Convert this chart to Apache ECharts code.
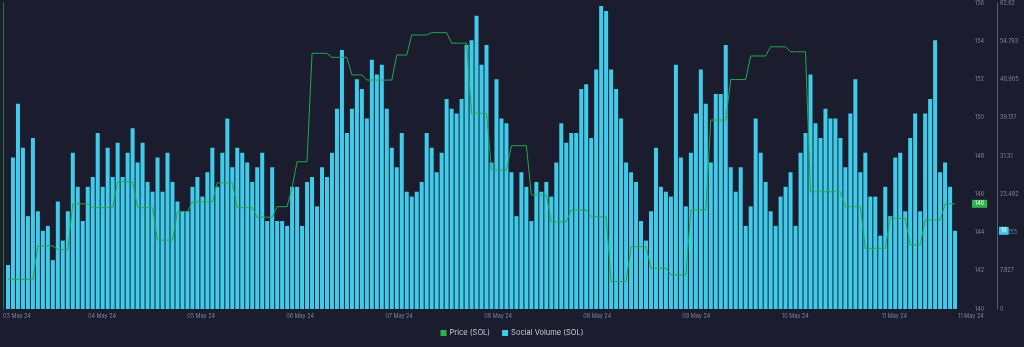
<!DOCTYPE html>
<html>
<head>
<meta charset="utf-8">
<script src="https://cdn.jsdelivr.net/npm/echarts@6/dist/echarts.min.js"></script>
<style>
html,body{margin:0;padding:0;background:#1b1d2e;}
#chart{width:1024px;height:347px;}
</style>
</head>
<body>
<div id="chart"></div>
<script>
// x-axis tick labels (first = axis start, last = axis end)
const xTickLabels = ['03 May 24','04 May 24','05 May 24','06 May 24','07 May 24','08 May 24','08 May 24','09 May 24','10 May 24','11 May 24','11 May 24'];
// right axis tick labels for social volume
const volumeTickLabels = ['0','7.827','15.655','23.482','31.31','39.137','46.965','54.793','62.62'];

// hourly social volume (SOL)
const socialVolume = [
  9,31,42,33,19,35,20,16,17,10,22,14,20,32,25,18,25,27,36,25,
  33,27,34,27,32,37,30,34,26,24,31,24,32,26,22,20,20,25,27,23,
  28,33,25,32,39,29,33,32,30,26,29,32,
  18,29,18,18,17,25,25,17,26,27,21,29,27,32,41,53,36,41,47,45,
  39,51,48,50,41,33,29,36,24,23,24,26,36,33,28,32,43,41,40,43,
  54,55,60,50,54,30,47,
  39,38,28,19,28,25,18,26,24,26,23,30,38,34,36,36,45,46,35,49,
  62,61,49,45,39,30,28,26,18,14,20,33,25,24,23,50,31,21,32,40,
  49,42,30,44,44,54,29,24,29,
  17,21,39,32,26,20,17,23,25,28,17,32,36,48,38,35,41,39,39,35,
  29,40,47,28,32,23,23,15,25,19,31,32,20,35,40,20,40,43,55,28,
  30,25,16
];

// hourly price (SOL, USD)
const price = [
  141.55,141.55,141.55,141.55,141.55,141.55,
  143.3,143.3,143.3,143.3,
  143.1,143.1,143.1,
  145.5,145.5,145.5,145.5,
  145.3,145.3,145.3,145.3,145.3,
  146.65,146.65,146.65,146.65,
  145.3,145.3,145.3,145.3,
  143.6,143.6,143.6,143.6,
  145.1,145.1,145.1,
  145.6,145.6,145.6,145.6,145.6,
  146.6,146.6,146.6,146.6,
  145.3,145.3,145.3,145.3,
  144.8,144.8,144.8,144.8,
  145.35,145.35,145.35,
  146.36,
  147.7,147.7,147.7,
  153.37,153.37,153.37,153.37,
  153.16,153.16,153.16,153.16,
  152.24,152.24,152.24,
  151.97,151.97,151.97,151.97,151.97,151.97,
  153.28,153.28,153.28,
  154.33,154.33,154.33,154.33,
  154.45,154.45,154.45,154.45,
  153.9,153.9,153.9,153.9,
  150.23,150.23,150.23,150.23,
  147.27,147.27,147.27,147.27,
  148.54,148.54,148.54,148.54,
  145.96,145.96,145.96,145.96,
  144.56,144.56,144.56,144.56,
  145.18,145.18,145.18,145.18,
  144.83,144.83,144.83,144.83,
  141.43,141.43,141.43,141.43,
  143.26,143.26,143.26,143.26,
  142.13,142.13,142.13,142.13,
  141.78,141.78,141.78,141.78,
  145.18,145.18,145.18,145.18,
  149.88,149.88,149.88,149.88,
  152.0,152.0,152.0,152.0,
  153.23,153.23,153.23,153.23,
  153.71,153.71,153.71,153.71,
  153.45,153.45,153.45,153.45,
  146.13,146.13,146.13,146.13,146.13,146.13,146.13,
  145.35,145.35,145.35,145.35,
  143.17,143.17,143.17,143.17,143.17,
  144.74,144.74,144.74,144.74,
  143.35,143.35,143.35,
  144.65,144.65,144.65,144.65,
  145.5,145.5,145.5
];

const X_STEP = 19.87;   // hours between date ticks
const X_MAX = 194.2;    // axis end (hours)
const VOL_MAX = 62.62;
const VOL_STEP = VOL_MAX / 8;

const volData = socialVolume.map((v, i) => [i + 1, v]);
const priceData = price.map((v, i) => [i + 1, v]);
const lastPrice = price[price.length - 1];
const lastVol = socialVolume[socialVolume.length - 1];

const LABEL_FONT = 'Inter, "Noto Sans", sans-serif';

const chart = echarts.init(document.getElementById('chart'), null, {renderer: 'canvas'});
chart.setOption({
  animation: false,
  backgroundColor: '#1b1d2e',
  grid: {left: 0, right: 53, top: 3, bottom: 38, containLabel: false},
  legend: {
    bottom: 5,
    left: 'center',
    icon: 'rect',
    itemWidth: 6,
    itemHeight: 6,
    itemGap: 12,
    textStyle: {color: '#c9cbd4', fontSize: 7.5, fontFamily: LABEL_FONT, padding: [0, 0, 0, -2]},
    data: ['Price (SOL)', 'Social Volume (SOL)']
  },
  xAxis: {
    type: 'value',
    min: 0,
    max: X_MAX,
    interval: X_STEP,
    axisLine: {show: false},
    axisTick: {show: false},
    splitLine: {show: false},
    axisLabel: {
      color: '#80849a',
      fontSize: 5.5,
      margin: 4,
      fontFamily: LABEL_FONT,
      showMinLabel: true,
      showMaxLabel: true,
      alignMinLabel: 'left',
      alignMaxLabel: 'center',
      formatter: function (v) {
        if (v >= X_MAX - 0.01) return xTickLabels[xTickLabels.length - 1];
        return xTickLabels[Math.round(v / X_STEP)] || '';
      }
    }
  },
  yAxis: [
    {
      type: 'value',
      position: 'right',
      min: 140,
      max: 156,
      interval: 2,
      offset: 0,
      axisLine: {show: true, lineStyle: {color: '#1f7a40', width: 1}},
      axisTick: {show: false},
      splitLine: {show: false},
      axisLabel: {color: '#80849a', fontSize: 5.5, margin: 4, fontFamily: LABEL_FONT}
    },
    {
      type: 'value',
      position: 'right',
      min: 0,
      max: VOL_MAX,
      interval: VOL_STEP,
      offset: 26,
      axisLine: {show: true, lineStyle: {color: '#4b5f86', width: 1}},
      axisTick: {show: false},
      splitLine: {show: false},
      axisLabel: {
        color: '#80849a', fontSize: 5.5, margin: 3, fontFamily: LABEL_FONT,
        formatter: function (v) { return volumeTickLabels[Math.round(v / VOL_STEP)]; }
      }
    }
  ],
  series: [
    {
      name: 'Social Volume (SOL)',
      type: 'bar',
      xAxisIndex: 0,
      yAxisIndex: 1,
      data: volData,
      barWidth: 4,
      itemStyle: {color: '#3fcbe9'},
      z: 2,
      markLine: {
        silent: true,
        symbol: 'none',
        lineStyle: {color: 'rgba(0,0,0,0)', width: 0, type: 'solid'},
        data: [{yAxis: lastVol}],
        label: {
          show: true,
          position: 'end',
          distance: 28,
          formatter: String(lastVol),
          backgroundColor: '#3fcbe9',
          color: '#ffffff',
          fontSize: 5.5,
          fontFamily: LABEL_FONT,
          padding: [1, 2]
        }
      }
    },
    {
      name: 'Price (SOL)',
      type: 'line',
      xAxisIndex: 0,
      yAxisIndex: 0,
      data: priceData,
      symbol: 'none',
      lineStyle: {color: '#22a84a', width: 1},
      itemStyle: {color: '#2fb24c'},
      z: 3,
      markLine: {
        silent: true,
        symbol: 'none',
        lineStyle: {color: 'rgba(0,0,0,0)', width: 0, type: 'solid'},
        data: [{yAxis: lastPrice}],
        label: {
          show: true,
          position: 'end',
          distance: 1,
          formatter: String(Math.round(lastPrice)),
          backgroundColor: '#2fb24c',
          color: '#e9f7ec',
          fontSize: 5.5,
          fontFamily: LABEL_FONT,
          padding: [1, 3]
        }
      }
    }
  ]
});
</script>
</body>
</html>
